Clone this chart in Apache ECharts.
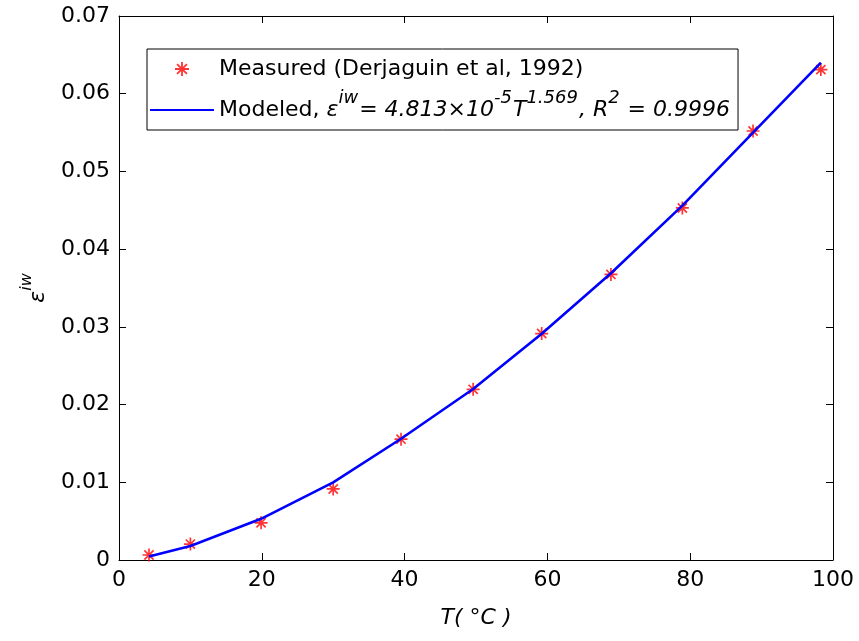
<!DOCTYPE html>
<html>
<head>
<meta charset="utf-8">
<script src="https://cdn.jsdelivr.net/npm/echarts@6/dist/echarts.min.js"></script>
<style>
  html, body { margin: 0; padding: 0; background: #fff; }
  #chart { width: 859px; height: 641px; }
</style>
</head>
<body>
<div id="chart"></div>
<script>
// ---- Data ----
var temperatureC = [4.2, 10.0, 19.9, 30.0, 39.5, 49.6, 59.2, 68.9, 78.9, 88.8, 98.3];
var measuredEps  = [0.00064, 0.00205, 0.00478, 0.00914, 0.01555, 0.02196, 0.02914, 0.03675, 0.0453, 0.0552, 0.0631];
var modeledEps   = [0.00046, 0.0018, 0.0053, 0.0100, 0.0156, 0.0220, 0.0291, 0.0369, 0.0456, 0.0550, 0.0640];
var xTicks = [0, 20, 40, 60, 80, 100];
var yTicks = [0, 0.01, 0.02, 0.03, 0.04, 0.05, 0.06, 0.07];
var seriesNames = ['Measured', 'Modeled'];

var FONT = 'DejaVu Sans';
var ASTERISK = 'path://M-1.3,-10L1.3,-10L1.3,10L-1.3,10Z' +
  'M-10,-1.3L10,-1.3L10,1.3L-10,1.3Z' +
  'M-6.15,-7.99L7.99,6.15L6.15,7.99L-7.99,-6.15Z' +
  'M-7.99,6.15L6.15,-7.99L7.99,-6.15L-6.15,7.99Z';

function pairs(xs, ys) {
  var out = [];
  for (var i = 0; i < xs.length; i++) out.push([xs[i], ys[i]]);
  return out;
}

var chart = echarts.init(document.getElementById('chart'), null, { renderer: 'canvas' });

var axisLineStyle = { show: true, onZero: false, lineStyle: { color: '#000', width: 1 } };
var tickStyle = { show: true, inside: false, length: -7, lineStyle: { color: '#000', width: 1 } };

var option = {
  backgroundColor: '#fff',
  animation: false,
  textStyle: { fontFamily: FONT },
  grid: { left: 119, right: 26, top: 16, bottom: 81, containLabel: false },
  legend: {
    orient: 'vertical',
    left: 147,
    top: 49,
    padding: [9, 8, 9, 2],
    itemGap: 9,
    itemWidth: 64,
    itemHeight: 14,
    backgroundColor: '#fff',
    borderColor: '#000',
    borderWidth: 1,
    borderRadius: 0,
    selectedMode: false,
    data: [
      { name: seriesNames[0] },
      { name: seriesNames[1], itemStyle: { opacity: 0 } }
    ],
    formatter: function (name) {
      if (name === 'Measured') return '{n|Measured (Derjaguin et al, 1992)}';
      return '{n|Modeled, }{i|\u03b5}{s|iw}{i|= 4.813\u00d710}{s|-5}{i|T}{s|1.569}{i|, R}{s|2}{i| = 0.9996}';
    },
    textStyle: {
      fontFamily: FONT, fontSize: 22, color: '#000',
      rich: {
        n: { fontFamily: FONT, fontSize: 22, color: '#000', lineHeight: 22, verticalAlign: 'bottom' },
        i: { fontFamily: FONT, fontSize: 22, color: '#000', fontStyle: 'italic', lineHeight: 22, verticalAlign: 'bottom' },
        s: { fontFamily: FONT, fontSize: 18, color: '#000', fontStyle: 'italic', lineHeight: 18, verticalAlign: 'bottom', padding: [0, 1, 14, 0] }
      }
    }
  },
  xAxis: [
    {
      type: 'value', position: 'bottom', min: xTicks[0], max: xTicks[xTicks.length - 1], interval: 20,
      name: 'T( \u00b0C )', nameLocation: 'middle', nameGap: 47,
      nameTextStyle: { fontFamily: FONT, fontSize: 22, fontStyle: 'italic', color: '#000' },
      axisLine: axisLineStyle,
      axisTick: tickStyle,
      axisLabel: { show: true, margin: 9, fontFamily: FONT, fontSize: 22, color: '#000' },
      splitLine: { show: false }
    },
    {
      type: 'value', position: 'top', min: xTicks[0], max: xTicks[xTicks.length - 1], interval: 20,
      axisLine: axisLineStyle,
      axisTick: tickStyle,
      axisLabel: { show: true, formatter: function () { return ''; } },
      splitLine: { show: false }
    }
  ],
  yAxis: [
    {
      type: 'value', position: 'left', min: yTicks[0], max: yTicks[yTicks.length - 1], interval: 0.01,
      name: '{i|\u03b5}{s|iw}', nameLocation: 'middle', nameGap: 70, nameRotate: 90,
      nameTextStyle: {
        fontFamily: FONT, fontSize: 22, color: '#000',
        rich: {
          i: { fontFamily: FONT, fontSize: 22, fontStyle: 'italic', color: '#000', lineHeight: 22, verticalAlign: 'bottom' },
          s: { fontFamily: FONT, fontSize: 16, fontStyle: 'italic', color: '#000', lineHeight: 16, verticalAlign: 'bottom', padding: [0, 0, 14, 0] }
        }
      },
      axisLine: axisLineStyle,
      axisTick: tickStyle,
      axisLabel: {
        show: true, margin: 9, fontFamily: FONT, fontSize: 22, color: '#000',
        formatter: function (v) { return v === 0 ? '0' : v.toFixed(2); }
      },
      splitLine: { show: false }
    },
    {
      type: 'value', position: 'right', min: yTicks[0], max: yTicks[yTicks.length - 1], interval: 0.01,
      axisLine: axisLineStyle,
      axisTick: tickStyle,
      axisLabel: { show: true, formatter: function () { return ''; } },
      splitLine: { show: false }
    }
  ],
  series: [
    {
      name: seriesNames[0],
      type: 'scatter',
      xAxisIndex: 0, yAxisIndex: 0,
      symbol: ASTERISK,
      symbolSize: 13,
      symbolKeepAspect: true,
      itemStyle: { color: '#ff0000' },
      data: pairs(temperatureC, measuredEps),
      z: 3
    },
    {
      name: seriesNames[1],
      type: 'line',
      xAxisIndex: 0, yAxisIndex: 0,
      symbol: 'none',
      showSymbol: false,
      lineStyle: { color: '#0000ff', width: 2.6 },
      itemStyle: { color: '#0000ff' },
      data: pairs(temperatureC, modeledEps),
      z: 4
    }
  ]
};

chart.setOption(option);
</script>
</body>
</html>
